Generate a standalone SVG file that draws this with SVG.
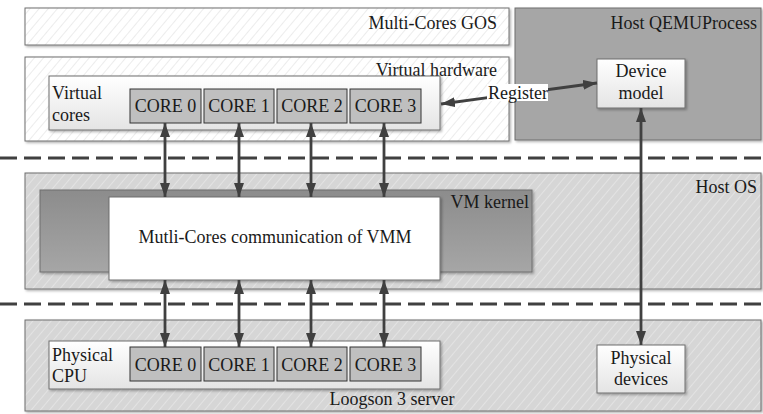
<svg xmlns="http://www.w3.org/2000/svg" width="763" height="414" viewBox="0 0 763 414">
<defs>
<pattern id="hatchW" patternUnits="userSpaceOnUse" width="7" height="7" patternTransform="rotate(40)">
<rect width="7" height="7" fill="#ffffff"/>
<line x1="0" y1="0" x2="0" y2="7" stroke="#d9d9d9" stroke-width="1"/>
</pattern>
<pattern id="hatchG" patternUnits="userSpaceOnUse" width="7" height="7" patternTransform="rotate(40)">
<rect width="7" height="7" fill="#d6d6d6"/>
<line x1="0" y1="0" x2="0" y2="7" stroke="#f0f0f0" stroke-width="1"/>
</pattern>
<linearGradient id="gLight" x1="0" y1="0" x2="0" y2="1">
<stop offset="0" stop-color="#ffffff"/>
<stop offset="1" stop-color="#e4e4e4"/>
</linearGradient>
<linearGradient id="gKernel" x1="0" y1="0" x2="0" y2="1">
<stop offset="0" stop-color="#8c8c8c"/>
<stop offset="1" stop-color="#a6a6a6"/>
</linearGradient>
<marker id="ah" markerUnits="userSpaceOnUse" viewBox="0 0 14 10" refX="14" refY="5" markerWidth="14" markerHeight="10" orient="auto-start-reverse">
<path d="M0,0 L14,5 L0,10 z" fill="#404040"/>
</marker>
<filter id="sh" x="-5%" y="-5%" width="110%" height="120%">
<feDropShadow dx="1.5" dy="1.5" stdDeviation="0.8" flood-color="#000" flood-opacity="0.3"/>
</filter>
</defs>
<style>
text{font-family:"Liberation Serif","Times New Roman",serif;font-size:18px;fill:#1a1a1a}
.box{stroke:#6e6e6e;stroke-width:1}
.core{fill:#bfbfbf;stroke:#333;stroke-width:1}
.r{text-anchor:end}
.m{text-anchor:middle}
.dash{stroke:#404040;stroke-width:3;stroke-dasharray:17 7;fill:none}
.conn{stroke:#404040;stroke-width:2.8;fill:none;marker-start:url(#ah);marker-end:url(#ah)}
</style>

<g id="separators">
<line class="dash" x1="0" y1="158" x2="763" y2="158"/>
<line class="dash" x1="0" y1="304" x2="763" y2="304"/>
</g>

<g id="gos">
<rect class="box" x="25" y="8" width="484" height="37" fill="url(#hatchW)" filter="url(#sh)"/>
<text class="r" x="497" y="29">Multi-Cores GOS</text>
</g>

<g id="qemu">
<rect class="box" x="515" y="8" width="246" height="132" fill="#a6a6a6" filter="url(#sh)"/>
<text class="r" x="757" y="29">Host QEMUProcess</text>
</g>

<g id="virtual-hardware">
<rect class="box" x="25" y="57" width="484" height="84" fill="url(#hatchW)" filter="url(#sh)"/>
<text class="r" x="497" y="76">Virtual hardware</text>
</g>

<g id="virtual-cores">
<rect class="box" x="49" y="76" width="391" height="54" fill="url(#gLight)" filter="url(#sh)"/>
<text x="52" y="99">Virtual</text>
<text x="52" y="121">cores</text>
</g>
<g id="vcore0"><rect class="core" x="130" y="89" width="71" height="34"/><text class="m" x="165.5" y="112">CORE 0</text></g>
<g id="vcore1"><rect class="core" x="204" y="89" width="70" height="34"/><text class="m" x="239" y="112">CORE 1</text></g>
<g id="vcore2"><rect class="core" x="277" y="89" width="70" height="34"/><text class="m" x="312" y="112">CORE 2</text></g>
<g id="vcore3"><rect class="core" x="350" y="89" width="71" height="34"/><text class="m" x="385.5" y="112">CORE 3</text></g>

<g id="device-model">
<rect class="box" x="597" y="59" width="88" height="49" fill="url(#gLight)" filter="url(#sh)"/>
<text class="m" x="641" y="77">Device</text>
<text class="m" x="641" y="99">model</text>
</g>

<g id="host-os">
<rect class="box" x="25" y="173" width="736" height="116" fill="url(#hatchG)" filter="url(#sh)"/>
<text class="r" x="757" y="193">Host OS</text>
</g>

<g id="vm-kernel">
<rect class="box" x="40" y="190" width="492" height="82" fill="url(#gKernel)" filter="url(#sh)"/>
<text class="r" x="529" y="208">VM kernel</text>
</g>

<g id="vmm">
<rect class="box" x="109" y="197" width="331" height="83" fill="#ffffff" filter="url(#sh)"/>
<text class="m" x="275" y="243">Mutli-Cores communication of VMM</text>
</g>

<g id="server">
<rect class="box" x="25" y="320" width="736" height="91" fill="url(#hatchG)" filter="url(#sh)"/>
<text class="m" x="392" y="405">Loogson 3 server</text>
</g>

<g id="physical-cpu">
<rect class="box" x="49" y="341" width="391" height="48" fill="url(#gLight)" filter="url(#sh)"/>
<text x="52" y="361">Physical</text>
<text x="52" y="382">CPU</text>
</g>
<g id="pcore0"><rect class="core" x="130" y="347" width="71" height="34"/><text class="m" x="165.5" y="371">CORE 0</text></g>
<g id="pcore1"><rect class="core" x="204" y="347" width="70" height="34"/><text class="m" x="239" y="371">CORE 1</text></g>
<g id="pcore2"><rect class="core" x="277" y="347" width="70" height="34"/><text class="m" x="312" y="371">CORE 2</text></g>
<g id="pcore3"><rect class="core" x="350" y="347" width="71" height="34"/><text class="m" x="385.5" y="371">CORE 3</text></g>

<g id="physical-devices">
<rect class="box" x="597" y="345" width="88" height="48" fill="url(#gLight)" filter="url(#sh)"/>
<text class="m" x="641" y="364">Physical</text>
<text class="m" x="641" y="385">devices</text>
</g>

<g id="connectors">
<line class="conn" x1="165" y1="123" x2="165" y2="197"/>
<line class="conn" x1="239" y1="123" x2="239" y2="197"/>
<line class="conn" x1="311" y1="123" x2="311" y2="197"/>
<line class="conn" x1="384" y1="123" x2="384" y2="197"/>
<line class="conn" x1="165" y1="280" x2="165" y2="347"/>
<line class="conn" x1="239" y1="280" x2="239" y2="347"/>
<line class="conn" x1="311" y1="280" x2="311" y2="347"/>
<line class="conn" x1="384" y1="280" x2="384" y2="347"/>
<line class="conn" x1="641" y1="108" x2="641" y2="345"/>
<line class="conn" x1="441" y1="104" x2="597" y2="83"/>
<rect x="487" y="84" width="61" height="17" fill="#ffffff"/>
<text x="488" y="99">Register</text>
</g>
</svg>
